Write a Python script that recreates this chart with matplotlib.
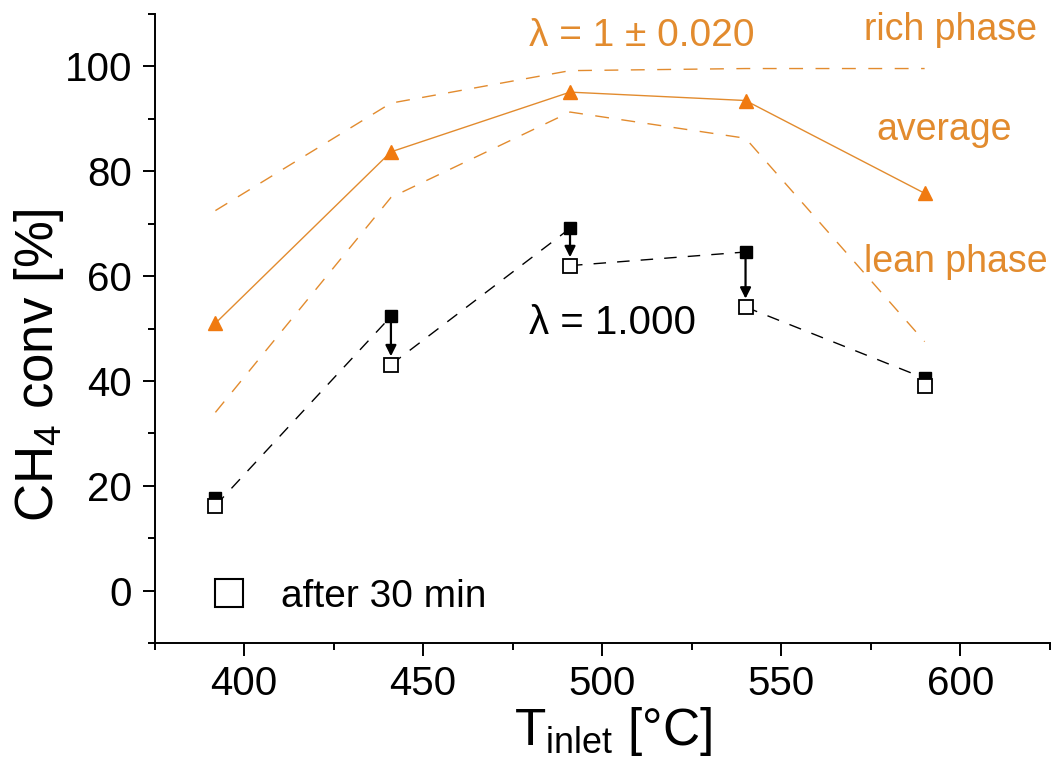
import matplotlib
matplotlib.use('Agg')
import matplotlib.pyplot as plt
from matplotlib.lines import Line2D
from matplotlib.ticker import MultipleLocator

plt.rcParams['font.family'] = ['Liberation Sans', 'DejaVu Sans']
plt.rcParams['mathtext.default'] = 'regular'

# data
t_inlet = [392, 441, 491, 540, 590]
avg_conv = [51.0, 83.7, 95.1, 93.5, 75.8]
rich_conv = [72.5, 93.0, 99.2, 99.6, 99.6]
lean_conv = [34.0, 75.0, 91.3, 86.3, 47.5]
start_conv = [17.6, 52.3, 69.1, 64.6, 40.5]   # filled squares
after30_conv = [16.2, 43.1, 62.0, 54.1, 39.1]  # open squares, after 30 min
arrow_idx = [1, 2, 3]

orange = '#E28B2E'
orange_mk = '#F07A10'

fig = plt.figure(figsize=(10.62, 7.67), dpi=100)
ax = fig.add_axes([0.1455, 0.1617, 0.8432, 0.82])

# lambda = 1 +- 0.020 band
ax.plot(t_inlet, rich_conv, color=orange, lw=1.0, dashes=(10, 9))
ax.plot(t_inlet, lean_conv, color=orange, lw=1.0, dashes=(10, 9))
ax.plot(t_inlet, avg_conv, color=orange, lw=1.0, marker='^', ms=10,
        mfc=orange_mk, mec=orange_mk)

# lambda = 1.000: dashed line from after-30-min point to next start point
for i in range(len(t_inlet) - 1):
    ax.plot([t_inlet[i], t_inlet[i + 1]], [after30_conv[i], start_conv[i + 1]],
            color='black', lw=1.0, dashes=(9, 8))

ax.plot(t_inlet, start_conv, ls='none', marker='s', ms=8, color='black')
ax.plot(t_inlet, after30_conv, ls='none', marker='s', ms=10, mfc='white',
        mec='black', mew=1.3)

for i in arrow_idx:
    ax.annotate('', xy=(t_inlet[i], after30_conv[i] + 1.6),
                xytext=(t_inlet[i], start_conv[i]),
                arrowprops=dict(arrowstyle='-|>', color='black', lw=1.6,
                                mutation_scale=16, shrinkA=0, shrinkB=0))

# annotations
ax.text(479.5, 105.9, 'λ = 1 ± 0.020', color=orange, fontsize=28, va='center')
ax.text(573, 106.9, 'rich phase', color=orange, fontsize=27, va='center')
ax.text(576.5, 87.8, 'average', color=orange, fontsize=27, va='center')
ax.text(573, 62.6, 'lean phase', color=orange, fontsize=27, va='center')
ax.text(479.5, 51.0, 'λ = 1.000', color='black', fontsize=29, va='center')

leg_handle = Line2D([], [], ls='none', marker='s', ms=20, mfc='white',
                    mec='black', mew=1.5)
ax.legend([leg_handle], ['after 30 min'], loc='center left',
          bbox_to_anchor=(0.061, 0.073), frameon=False, fontsize=28,
          handletextpad=0.85, handlelength=1.0, borderpad=0, borderaxespad=0)

# axes
ax.set_xlim(375, 625)
ax.set_ylim(-10, 110)
ax.xaxis.set_major_locator(MultipleLocator(50))
ax.xaxis.set_minor_locator(MultipleLocator(25))
ax.yaxis.set_major_locator(MultipleLocator(20))
ax.yaxis.set_minor_locator(MultipleLocator(10))
ax.spines['top'].set_visible(False)
ax.spines['right'].set_visible(False)
for s in ['left', 'bottom']:
    ax.spines[s].set_linewidth(1.4)
ax.tick_params(which='major', direction='out', length=9, width=1.4,
               labelsize=29, pad=7)
ax.tick_params(which='minor', direction='out', length=5, width=1.4)

fig.text(53 / 1062, 1 - 365 / 767, 'CH$_4$ conv [%]', rotation=90,
         rotation_mode='anchor', ha='center', va='baseline', fontsize=38)
fig.text(613 / 1062, 1 - 745 / 767, 'T$_{inlet}$ [°C]', ha='center',
         va='baseline', fontsize=37)

fig.savefig('out.png', dpi=100)
